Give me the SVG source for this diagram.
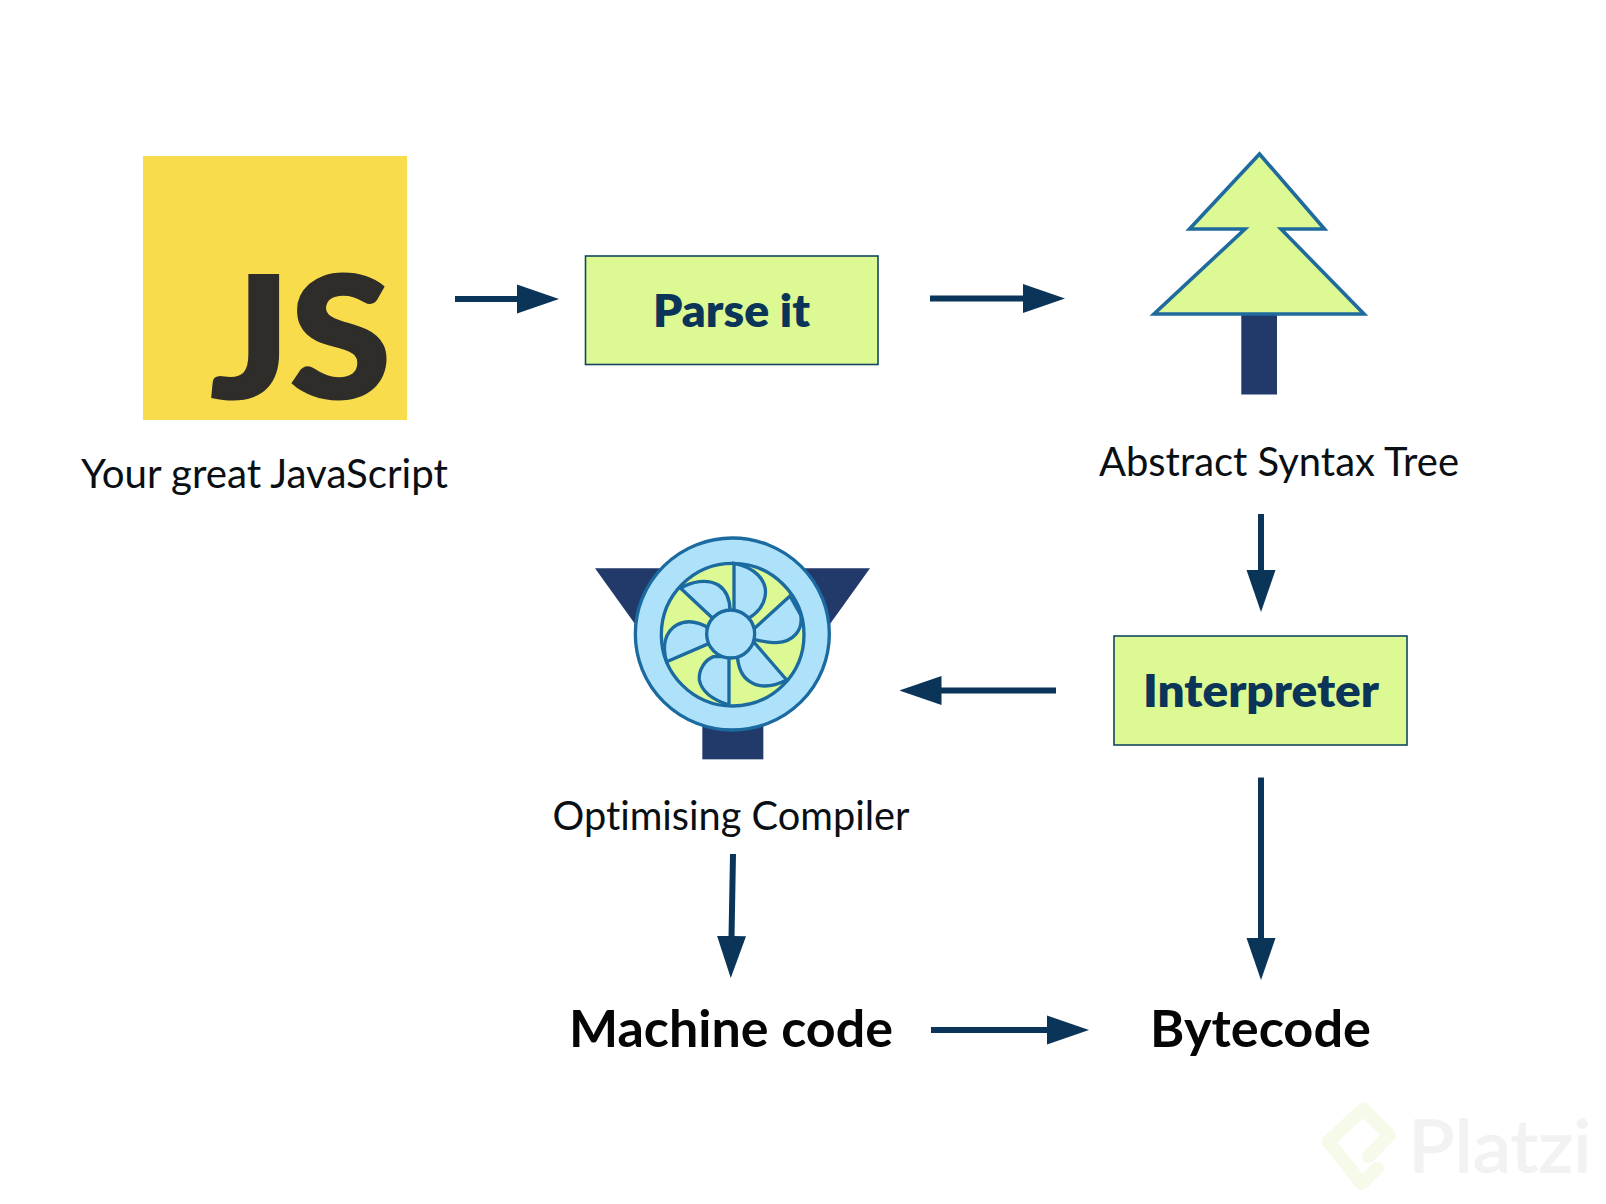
<svg xmlns="http://www.w3.org/2000/svg" width="1606" height="1204" viewBox="0 0 1606 1204">
<defs>
<marker id="head" markerUnits="userSpaceOnUse" viewBox="0 -15 42 30" markerWidth="42" markerHeight="30" refX="1" refY="0" orient="auto"><path d="M0,-14.5L42,0L0,14.5z" fill="#0a3558"/></marker>
</defs>
<style>
text{font-family:"Lato","Liberation Sans",sans-serif;font-variant-ligatures:none}
.label{font-size:40px;fill:#0a0f14}
.boxlabel{font-size:45px;font-weight:800;fill:#0a3558}
.big{font-size:51px;font-weight:700;fill:#050505}
.box{fill:#dcf993;stroke:#12485f;stroke-width:1.6}
.c{fill:none;stroke:#0a3558;stroke-width:6;marker-end:url(#head)}
.navy{fill:#213a69}
.fan{stroke:#1b6aa0;stroke-width:10}
.sky{fill:#aee2fb}
</style>
<rect width="1606" height="1204" fill="#ffffff"/>
<g id="watermark" transform="translate(1300 1090) scale(.33333)">
<polyline points="205,200 268,135 190,57 85,155 185,280 232,235" fill="none" stroke="#f6faea" stroke-width="40" stroke-linejoin="round" stroke-linecap="round"/>
<text x="325" y="245" font-size="216" fill="#f2f2f2" stroke="#f2f2f2" stroke-width="4" textLength="550" lengthAdjust="spacingAndGlyphs">Platzi</text>
</g>
<g id="js">
<rect x="143" y="156" width="264" height="264" fill="#f8dc4c"/>
<text x="211" y="398" font-size="168" font-weight="900" fill="#2e2d29" stroke="#2e2d29" stroke-width="3" textLength="180" lengthAdjust="spacingAndGlyphs">JS</text>
<text class="label" x="81" y="488" textLength="367" lengthAdjust="spacingAndGlyphs">Your great JavaScript</text>
</g>
<g id="parse">
<rect class="box" x="585.500" y="256" width="292.500" height="108.500"/>
<text class="boxlabel" x="653" y="327" textLength="157" lengthAdjust="spacingAndGlyphs">Parse it</text>
</g>
<g id="tree">
<rect class="navy" x="1241.300" y="313" width="35.700" height="81.500"/>
<path d="M1259.500,154L1324.500,229H1281L1364,314H1154L1245,229H1189.500z" fill="#dcf993" stroke="#1f6b9e" stroke-width="3.600"/>
<text class="label" x="1099" y="476" textLength="360" lengthAdjust="spacingAndGlyphs">Abstract Syntax Tree</text>
</g>
<g id="interpreter">
<rect class="box" x="1114" y="636" width="293" height="109"/>
<text class="boxlabel" x="1143" y="707" textLength="236" lengthAdjust="spacingAndGlyphs">Interpreter</text>
</g>
<g id="compiler">
<g transform="translate(560 520) scale(.33333)">
<path class="navy" d="M105,145H930L810,312H225z"/>
<rect class="navy" x="427" y="600" width="183" height="118"/>
<ellipse class="sky fan" cx="517" cy="342" rx="291" ry="288"/>
<circle cx="518" cy="344" r="214" fill="#dcf993" class="fan"/>
<path class="sky fan" d="M522,130V272L565,295C590,280 610,260 615,230C625,180 580,140 522,130z"/>
<path class="sky fan" d="M690,228L578,330V358C600,362 625,368 650,368C700,365 730,330 722,285z"/>
<path class="sky fan" d="M680,480L578,362L532,408C535,445 545,470 570,485C600,505 640,500 680,480z"/>
<path class="sky fan" d="M507,555V410H460C435,420 415,450 418,480C425,515 460,540 507,555z"/>
<path class="sky fan" d="M320,425L448,370V325C415,305 380,298 350,315C315,335 305,380 320,425z"/>
<path class="sky fan" d="M362,205L458,295L510,272C510,240 500,212 475,195C440,175 395,185 362,205z"/>
<circle cx="512" cy="342" r="72" class="sky fan"/>
</g>
<text class="label" x="552.500" y="830" textLength="357" lengthAdjust="spacingAndGlyphs">Optimising Compiler</text>
</g>
<g id="machine"><text class="big" x="569" y="1047" textLength="324" lengthAdjust="spacingAndGlyphs">Machine code</text></g>
<g id="bytecode"><text class="big" x="1150" y="1047" textLength="221" lengthAdjust="spacingAndGlyphs">Bytecode</text></g>
<g id="connectors">
<line class="c" x1="455" y1="299" x2="518" y2="299"/>
<line class="c" x1="930" y1="298.500" x2="1024" y2="298.500"/>
<line class="c" x1="1261" y1="514" x2="1261" y2="571"/>
<line class="c" x1="1056" y1="690.500" x2="940.500" y2="690.500"/>
<line class="c" x1="1261" y1="777.500" x2="1261" y2="939"/>
<line class="c" x1="733" y1="854" x2="731.500" y2="937"/>
<line class="c" x1="931" y1="1030" x2="1048" y2="1030"/>
</g>
</svg>
